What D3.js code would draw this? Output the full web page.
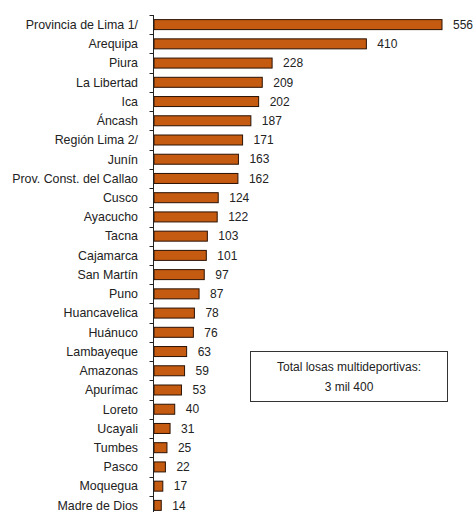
<!DOCTYPE html>
<html>
<head>
<meta charset="utf-8">
<script src="https://cdn.jsdelivr.net/npm/d3@7"></script>
<style>
  html, body { margin: 0; padding: 0; background: #fff; }
  svg { display: block; }
  text { font-family: "Liberation Sans", Arial, sans-serif; fill: #222; }
</style>
</head>
<body>
<script>
// Losas multideportivas por departamento
const regions = [
  "Provincia de Lima 1/", "Arequipa", "Piura", "La Libertad", "Ica", "Áncash",
  "Región Lima 2/", "Junín", "Prov. Const. del Callao", "Cusco", "Ayacucho",
  "Tacna", "Cajamarca", "San Martín", "Puno", "Huancavelica", "Huánuco",
  "Lambayeque", "Amazonas", "Apurímac", "Loreto", "Ucayali", "Tumbes",
  "Pasco", "Moquegua", "Madre de Dios"
];
const counts = [556, 410, 228, 209, 202, 187, 171, 163, 162, 124, 122, 103, 101,
  97, 87, 78, 76, 63, 59, 53, 40, 31, 25, 22, 17, 14];
const totalLines = ["Total losas multideportivas:", "3 mil 400"];

const W = 476, H = 512;
const svg = d3.select("body").append("svg").attr("width", W).attr("height", H);

const x = d3.scaleLinear().domain([0, 556]).range([154, 442]);
const pad = 0.48;
const y = d3.scaleBand().domain(regions).range([15, 515])
  .paddingInner(pad).paddingOuter(pad / 2);

// bars
svg.append("g").selectAll("rect").data(regions).join("rect")
  .attr("x", x(0))
  .attr("y", d => y(d))
  .attr("width", (d, i) => x(counts[i]) - x(0))
  .attr("height", y.bandwidth())
  .attr("fill", "#C55A11")
  .attr("stroke", "#2b1204")
  .attr("stroke-width", 1);

// value labels
svg.append("g").selectAll("text").data(regions).join("text")
  .attr("x", (d, i) => x(counts[i]) + 11)
  .attr("y", d => y(d) + y.bandwidth() / 2)
  .attr("dy", "0.35em")
  .attr("font-size", 12)
  .text((d, i) => counts[i]);

// category axis: labels, line and boundary ticks
const axis = svg.append("g");
axis.selectAll("text").data(regions).join("text")
  .attr("x", 138)
  .attr("y", d => y(d) + y.bandwidth() / 2)
  .attr("dy", "0.35em")
  .attr("text-anchor", "end")
  .attr("font-size", 12.4)
  .text(d => d);

axis.append("line")
  .attr("x1", x(0) - 0.5).attr("x2", x(0) - 0.5)
  .attr("y1", y.range()[0]).attr("y2", y.range()[1])
  .attr("stroke", "#222").attr("stroke-width", 1);

const bounds = regions.map(d => y(d) - y.step() * pad / 2);
axis.selectAll("line.tick").data(bounds).join("line")
  .attr("class", "tick")
  .attr("x1", x(0) - 4.5).attr("x2", x(0) - 0.5)
  .attr("y1", d => Math.round(d) + 0.5).attr("y2", d => Math.round(d) + 0.5)
  .attr("stroke", "#222").attr("stroke-width", 1);

// total box
const box = svg.append("g");
box.append("rect")
  .attr("x", 250.5).attr("y", 351.5).attr("width", 197).attr("height", 50)
  .attr("fill", "#fff").attr("stroke", "#333").attr("stroke-width", 1);
box.selectAll("text").data(totalLines).join("text")
  .attr("x", 349)
  .attr("y", (d, i) => 367 + i * 20)
  .attr("dy", "0.35em")
  .attr("text-anchor", "middle")
  .attr("font-size", 12)
  .text(d => d);
</script>
</body>
</html>
